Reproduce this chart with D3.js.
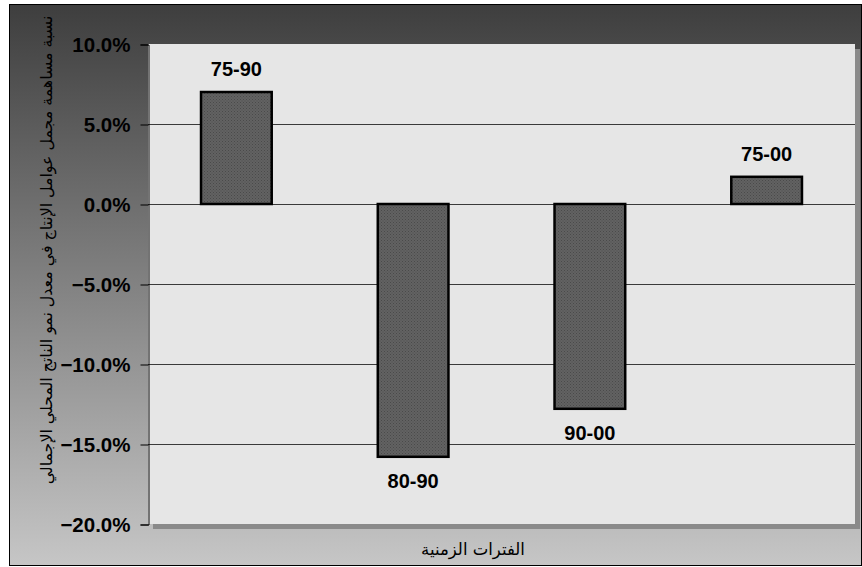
<!DOCTYPE html>
<html>
<head>
<meta charset="utf-8">
<script src="https://cdn.jsdelivr.net/npm/d3@7/dist/d3.min.js"></script>
<style>
  html, body { margin: 0; padding: 0; background: #ffffff; }
  svg { display: block; }
</style>
</head>
<body>
<script>
// Periods and their contribution of total factor productivity to GDP growth
const periods = ["75-90", "80-90", "90-00", "75-00"];
const values = [7.0, -15.8, -12.8, 1.7];
const yTicks = [10, 5, 0, -5, -10, -15, -20];
const yTitle = "نسبة مساهمة مجمل عوامل الإنتاج في معدل نمو الناتج المحلي الإجمالي";
const xTitle = "الفترات الزمنية";

const W = 862, H = 567;
const frame = { x: 9.5, y: 4.5, w: 852, h: 561 };
const plot = { left: 148, right: 855, top: 44, bottom: 524 };

const svg = d3.select("body").append("svg")
  .attr("width", W).attr("height", H);

const defs = svg.append("defs");

const grad = defs.append("linearGradient")
  .attr("id", "bg").attr("x1", 0).attr("y1", 0).attr("x2", 0).attr("y2", 1);
grad.append("stop").attr("offset", "0%").attr("stop-color", "#3e3e3e");
grad.append("stop").attr("offset", "100%").attr("stop-color", "#c6c6c6");

// dotted fill for the bars
const pat = defs.append("pattern")
  .attr("id", "dots").attr("width", 3).attr("height", 3)
  .attr("patternUnits", "userSpaceOnUse");
pat.append("rect").attr("width", 3).attr("height", 3).attr("fill", "#626262");
pat.append("rect").attr("x", 0).attr("y", 0).attr("width", 1).attr("height", 1).attr("fill", "#4a4a4a");
pat.append("rect").attr("x", 1.5).attr("y", 1.5).attr("width", 1).attr("height", 1).attr("fill", "#4e4e4e");

// chart background
svg.append("rect")
  .attr("x", frame.x).attr("y", frame.y)
  .attr("width", frame.w).attr("height", frame.h)
  .attr("fill", "url(#bg)").attr("stroke", "#000").attr("stroke-width", 1);

// plot area shadow and face
svg.append("rect")
  .attr("x", plot.left + 5).attr("y", plot.top + 5)
  .attr("width", plot.right - plot.left).attr("height", plot.bottom - plot.top)
  .attr("fill", "#8a8a8a");
svg.append("rect")
  .attr("x", plot.left).attr("y", plot.top)
  .attr("width", plot.right - plot.left).attr("height", plot.bottom - plot.top)
  .attr("fill", "#e6e6e6");

const y = d3.scaleLinear().domain([-20, 10]).range([plot.bottom, plot.top]);
const x = d3.scaleBand().domain(periods).range([plot.left, plot.right]).paddingInner(0.6).paddingOuter(0.3);

// gridlines
svg.append("g")
  .selectAll("line").data(yTicks.filter(t => t !== 10 && t !== -20))
  .join("line")
  .attr("x1", plot.left).attr("x2", plot.right)
  .attr("y1", d => Math.round(y(d)) + 0.5).attr("y2", d => Math.round(y(d)) + 0.5)
  .attr("stroke", "#3a3a3a").attr("stroke-width", 1);

// y axis
const yAxis = d3.axisLeft(y).tickValues(yTicks)
  .tickFormat(d => d3.format(".1f")(d) + "%")
  .tickSize(8).tickPadding(10);
const gy = svg.append("g").attr("transform", `translate(${plot.left + 0.5},0.5)`).call(yAxis);
gy.select(".domain").attr("stroke", "#000");
gy.selectAll(".tick line").attr("stroke", "#000");
gy.selectAll(".tick text")
  .attr("font-family", "Liberation Sans, Arial, sans-serif")
  .attr("font-size", 20.5).attr("font-weight", "bold").attr("fill", "#000");

// bars
svg.append("g").selectAll("rect").data(values)
  .join("rect")
  .attr("x", (d, i) => x(periods[i]))
  .attr("width", x.bandwidth())
  .attr("y", d => y(Math.max(0, d)))
  .attr("height", d => Math.abs(y(d) - y(0)))
  .attr("fill", "url(#dots)")
  .attr("stroke", "#000").attr("stroke-width", 2.5);

// period labels beside each bar end
svg.append("g").selectAll("text").data(values)
  .join("text")
  .attr("x", (d, i) => x(periods[i]) + x.bandwidth() / 2)
  .attr("y", d => d >= 0 ? y(d) - 16 : y(d) + 31)
  .attr("text-anchor", "middle")
  .attr("font-family", "Liberation Sans, Arial, sans-serif")
  .attr("font-size", 20).attr("font-weight", "bold").attr("fill", "#000")
  .text((d, i) => periods[i]);

// axis titles
svg.append("text")
  .attr("transform", `translate(52,250) rotate(-90)`)
  .attr("text-anchor", "middle")
  .attr("direction", "rtl")
  .attr("font-family", "DejaVu Sans, Noto Sans, sans-serif")
  .attr("font-size", 15.8).attr("fill", "#000")
  .text(yTitle);

svg.append("text")
  .attr("x", 473).attr("y", 555)
  .attr("text-anchor", "middle")
  .attr("direction", "rtl")
  .attr("font-family", "DejaVu Sans, Noto Sans, sans-serif")
  .attr("font-size", 16.5).attr("fill", "#000")
  .text(xTitle);
</script>
</body>
</html>
